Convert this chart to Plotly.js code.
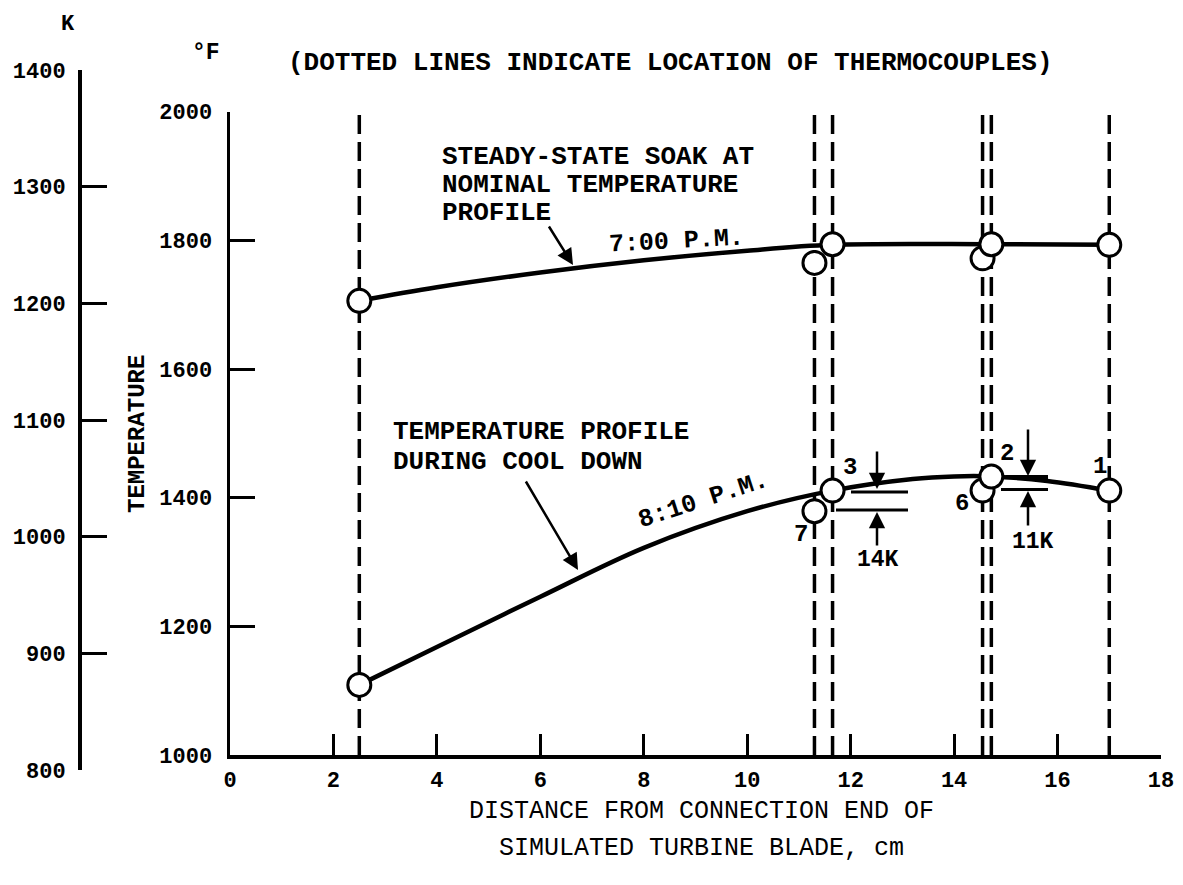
<!DOCTYPE html>
<html>
<head>
<meta charset="utf-8">
<script src="https://cdn.plot.ly/plotly-3.0.1.min.js"></script>
<style>html,body{margin:0;padding:0;background:#fff;}#chart{width:1183px;height:885px;}</style>
</head>
<body>
<div id="chart"></div>
<script>
// ---- data ----
const tcX = [2.5, 11.3, 11.65, 14.55, 14.72, 17.0];          // thermocouple locations, cm
const soakY = [1706, 1765, 1794, 1772, 1794, 1793];           // 7:00 P.M. readings, °F
const coolY = [1109, 1379, 1411, 1411, 1433, 1411];           // 8:10 P.M. readings, °F
const soakCurveX = [2.5, 4, 6, 8, 10, 11.65, 14.72, 17.0];
const soakCurveY = [1706, 1727, 1750, 1769, 1784, 1793, 1794, 1793];
const coolCurveX = [2.5, 4, 6, 8, 10, 11.65, 13.2, 14, 14.72, 15.8, 17.0];
const coolCurveY = [1109, 1168, 1246, 1322, 1379, 1411, 1429, 1433, 1433, 1426, 1411];
const xTicks = [0, 2, 4, 6, 8, 10, 12, 14, 16, 18];
const fTicks = [1000, 1200, 1400, 1600, 1800, 2000];
const kTicks = [800, 900, 1000, 1100, 1200, 1300, 1400];

// ---- layout helpers (pixel -> paper) ----
const W = 1183, H = 885;
const M = {l: 60, r: 22, t: 70, b: 115};
const PW = W - M.l - M.r, PH = H - M.t - M.b;
const PX = p => (p - M.l) / PW;
const PY = p => (H - M.b - p) / PH;

const FONT = 'Liberation Mono, Courier New, monospace';
const ink = '#000';

const traces = [
  {x: soakCurveX, y: soakCurveY, mode: 'lines', line: {color: ink, width: 4.5, shape: 'spline', smoothing: 1}, hoverinfo: 'skip', showlegend: false},
  {x: coolCurveX, y: coolCurveY, mode: 'lines', line: {color: ink, width: 4.5, shape: 'spline', smoothing: 1}, hoverinfo: 'skip', showlegend: false},
  {x: tcX, y: soakY, mode: 'markers', cliponaxis: false, marker: {symbol: 'circle', size: 23, color: '#fff', line: {color: ink, width: 3}}, showlegend: false},
  {x: tcX, y: coolY, mode: 'markers', cliponaxis: false, marker: {symbol: 'circle', size: 23, color: '#fff', line: {color: ink, width: 3}}, showlegend: false},
  // carries the Kelvin scale
  {x: [0, 0], y: [kTicks[0], kTicks[kTicks.length - 1]], yaxis: 'y2', mode: 'markers', marker: {opacity: 0}, hoverinfo: 'skip', showlegend: false}
];

const shapes = tcX.map(x => ({type: 'line', xref: 'x', yref: 'y', x0: x, x1: x, y0: fTicks[0], y1: fTicks[fTicks.length - 1], layer: 'below', line: {color: ink, width: 3.5, dash: '19px,8px'}}));
function hline(x0, x1, y, w) { shapes.push({type: 'line', xref: 'paper', yref: 'paper', x0: PX(x0), x1: PX(x1), y0: PY(y), y1: PY(y), line: {color: ink, width: w || 3}}); }
// 14K bracket
hline(851, 908, 492);
hline(836, 908, 510);
// 11K bracket
hline(1006, 1048, 477, 4);
hline(1001, 1048, 489.5);

function txt(t, x, y, size, opts) {
  return Object.assign({text: t, xref: 'paper', yref: 'paper', x: PX(x), y: PY(y), showarrow: false, xanchor: 'center', yanchor: 'middle',
    font: {family: FONT, size: size, color: ink, weight: 'bold'}}, opts || {});
}
function arrow(hx, hy, tx, ty) {
  return {text: '', xref: 'paper', yref: 'paper', x: PX(hx), y: PY(hy), ax: tx - hx, ay: ty - hy, showarrow: true,
    arrowhead: 2, arrowsize: 1.3, arrowwidth: 2.5, arrowcolor: ink, standoff: 0, startstandoff: 0};
}

const annotations = [
  txt('K', 68, 24, 22),
  txt('°F', 206, 53, 23),
  txt('(DOTTED LINES INDICATE LOCATION OF THERMOCOUPLES)', 670, 63, 26),
  txt('STEADY-STATE SOAK AT', 440, 157, 26, {xanchor: 'left'}),
  txt('NOMINAL TEMPERATURE', 440, 185, 26, {xanchor: 'left'}),
  txt('PROFILE', 440, 213, 26, {xanchor: 'left'}),
  txt('7:00 P.M.', 676, 242, 25, {textangle: -3}),
  txt('TEMPERATURE PROFILE', 391, 432, 26, {xanchor: 'left'}),
  txt('DURING COOL DOWN', 391, 462, 26, {xanchor: 'left'}),
  txt('8:10 P.M.', 703, 501, 25, {textangle: -18}),
  txt('3', 850, 468, 24),
  txt('7', 801, 534, 24),
  txt('6', 962, 503, 24),
  txt('2', 1007, 453, 24),
  txt('1', 1100, 466, 24),
  txt('14K', 878, 560, 23),
  txt('11K', 1033, 542, 23),
  txt('TEMPERATURE', 137, 434, 24, {textangle: -90}),
  txt('DISTANCE FROM CONNECTION END OF', 701, 811, 25, {font: {family: FONT, size: 25, color: ink}}),
  txt('SIMULATED TURBINE BLADE, cm', 701, 848, 25, {font: {family: FONT, size: 25, color: ink}}),
  arrow(573, 265, 548, 225),
  arrow(578, 570, 525, 480),
  arrow(877, 489, 877, 450),
  arrow(877, 512, 877, 547),
  arrow(1028, 476, 1028, 428),
  arrow(1028, 491, 1028, 527)
];

const axisCommon = {showgrid: false, zeroline: false, showline: true, linecolor: ink, linewidth: 3.5,
  ticks: 'inside', tickcolor: ink, tickwidth: 3, fixedrange: true};

const layout = {
  width: W, height: H,
  margin: M,
  paper_bgcolor: '#fff', plot_bgcolor: 'rgba(0,0,0,0)',
  font: {family: FONT, color: ink, size: 22},
  showlegend: false,
  xaxis: Object.assign({}, axisCommon, {domain: [PX(230), 1], range: [0, 18], anchor: 'y',
    tickmode: 'array', tickvals: xTicks, ticklen: 21, ticklabelstandoff: 2,
    tickfont: {family: FONT, size: 22, color: ink, weight: 'bold'}}),
  yaxis: Object.assign({}, axisCommon, {domain: [PY(755), PY(111.7)], range: [1000, 2000], anchor: 'x',
    tickmode: 'array', tickvals: fTicks, ticklen: 25, ticklabelstandoff: 10,
    tickfont: {family: FONT, size: 22, color: ink, weight: 'bold'}}),
  yaxis2: Object.assign({}, axisCommon, {domain: [0, 1], range: [800, 1400], anchor: 'free', position: PX(79), side: 'left',
    tickmode: 'array', tickvals: kTicks, ticklen: 25, ticklabelstandoff: 8,
    tickfont: {family: FONT, size: 22, color: ink, weight: 'bold'}}),
  shapes: shapes,
  annotations: annotations
};

Plotly.newPlot('chart', traces, layout, {staticPlot: true, displayModeBar: false});
</script>
</body>
</html>
